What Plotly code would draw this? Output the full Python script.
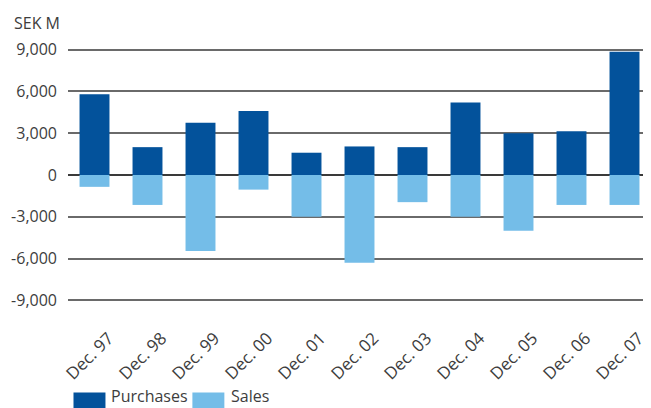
import plotly.graph_objects as go

categories = ["Dec. 97", "Dec. 98", "Dec. 99", "Dec. 00", "Dec. 01", "Dec. 02",
              "Dec. 03", "Dec. 04", "Dec. 05", "Dec. 06", "Dec. 07"]
purchases = [5800, 2000, 3750, 4600, 1600, 2050, 2000, 5200, 3000, 3150, 8850]
sales = [-850, -2150, -5450, -1050, -3000, -6300, -1950, -3000, -4000, -2150, -2150]
y_ticks = [-9000, -6000, -3000, 0, 3000, 6000, 9000]
y_tick_text = ["-9,000", "-6,000", "-3,000", "0", "3,000", "6,000", "9,000"]

DARK = "#03529b"
LIGHT = "#74bde8"
TEXT = "#3d3d3d"
FONT = "Open Sans"

# page body has an 8px margin; figure is drawn offset by 8px
OFF = 8
EXT = 120  # small extension so edge gridlines are drawn
Y_MIN, Y_MAX = -9000, 9000
pad_px = 250 * EXT / (Y_MAX - Y_MIN)
W, H = 651 - OFF, 408 - OFF
L, R, T, B = 67.5 - OFF, 0, 50 - pad_px - OFF, 108 - pad_px
pw, ph = W - L - R, H - T - B


def px_x(x):
    return (x - OFF - L) / pw


def px_y(y):
    return (H - B - (y - OFF)) / ph


fig = go.Figure()
fig.add_trace(go.Bar(x=categories, y=purchases, name="Purchases",
                     marker=dict(color=DARK, line=dict(width=0)), width=0.565))
fig.add_trace(go.Bar(x=categories, y=sales, name="Sales",
                     marker=dict(color=LIGHT, line=dict(width=0)), width=0.565))

shapes = []
annotations = []
# custom legend
for (x0, x1, tx, label, col) in [(73, 105, 109, "Purchases", DARK),
                                 (192, 224, 229, "Sales", LIGHT)]:
    shapes.append(dict(type="rect", xref="paper", yref="paper",
                       x0=px_x(x0), x1=px_x(x1), y0=px_y(410), y1=px_y(392),
                       fillcolor=col, line=dict(width=0), layer="above"))
    annotations.append(dict(text=label, xref="paper", yref="paper",
                            x=px_x(tx), y=px_y(408), xanchor="left", yanchor="bottom",
                            showarrow=False, font=dict(family=FONT, size=16, color=TEXT)))

annotations.append(dict(text="SEK M", xref="paper", yref="paper",
                        x=px_x(11), y=px_y(23), xanchor="left", yanchor="middle",
                        showarrow=False, font=dict(family=FONT, size=16, color=TEXT)))

fig.update_layout(
    width=W, height=H,
    margin=dict(l=L, r=R, t=T, b=B, pad=0),
    paper_bgcolor="white", plot_bgcolor="white",
    barmode="relative",
    showlegend=False,
    font=dict(family=FONT, size=16, color=TEXT),
    shapes=shapes, annotations=annotations,
)
fig.update_xaxes(range=[-0.5, 10.5], tickangle=-45, showgrid=False, showline=False,
                 ticks="", ticklabelshift=14, ticklabelstandoff=int(round(20 + pad_px)),
                 tickfont=dict(family=FONT, size=17, color=TEXT))
fig.update_yaxes(range=[Y_MIN - EXT, Y_MAX + EXT], tickvals=y_ticks, ticktext=y_tick_text,
                 showgrid=True, gridcolor="#6a6a6a", gridwidth=1.5,
                 zeroline=True, zerolinecolor="#3a3a3a", zerolinewidth=1.5,
                 showline=False, ticks="", ticklabelstandoff=10,
                 tickfont=dict(family=FONT, size=16, color=TEXT))

fig.write_html("out.html")
